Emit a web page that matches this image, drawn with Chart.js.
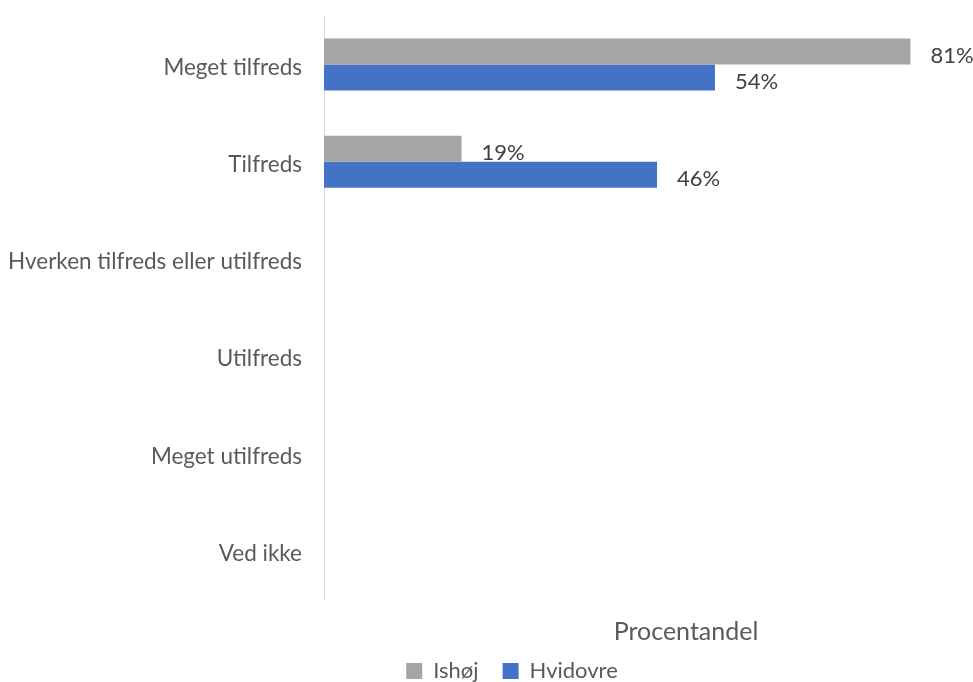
<!DOCTYPE html>
<html>
<head>
<meta charset="utf-8">
<script src="https://cdn.jsdelivr.net/npm/chart.js@4/dist/chart.umd.min.js"></script>
<style>
  html, body { margin: 0; padding: 0; background: #ffffff; overflow: hidden; }
  canvas { display: block; }
</style>
</head>
<body>
<canvas id="chart" width="1048" height="682"></canvas>
<script>
// Survey answers and the share of respondents per municipality
const categories = [
  'Meget tilfreds',
  'Tilfreds',
  'Hverken tilfreds eller utilfreds',
  'Utilfreds',
  'Meget utilfreds',
  'Ved ikke'
];
const seriesNames = ['Ishøj', 'Hvidovre'];
const ishojValues = [0.81, 0.19, 0, 0, 0, 0];
const hvidovreValues = [0.54, 0.46, 0, 0, 0, 0];
const axisTitle = 'Procentandel';

const FONT = 'Lato, "Liberation Sans", sans-serif';

// Writes the percentage just right of each non-empty bar
const valueLabels = {
  id: 'valueLabels',
  afterDatasetsDraw(chart) {
    const ctx = chart.ctx;
    ctx.save();
    ctx.font = '22px ' + FONT;
    ctx.fillStyle = '#404040';
    ctx.textAlign = 'left';
    ctx.textBaseline = 'middle';
    chart.data.datasets.forEach((ds, di) => {
      const meta = chart.getDatasetMeta(di);
      meta.data.forEach((bar, i) => {
        const v = ds.data[i];
        if (!v) return;
        ctx.fillText(Math.round(v * 100) + '%', bar.x + 20, bar.y + 4);
      });
    });
    ctx.restore();
  }
};

// Centres the legend under the left part of the figure
const legendShift = {
  id: 'legendShift',
  afterUpdate(chart) {
    const lg = chart.legend;
    if (!lg) return;
    lg.left -= 12;
    lg.right -= 12;
    if (lg.adjustHitBoxes) lg.adjustHitBoxes();
  }
};

new Chart(document.getElementById('chart'), {
  type: 'bar',
  data: {
    labels: categories,
    datasets: [
      {
        label: seriesNames[0],
        data: ishojValues,
        backgroundColor: '#a5a5a5',
        borderWidth: 0,
        categoryPercentage: 0.535,
        barPercentage: 1.0
      },
      {
        label: seriesNames[1],
        data: hvidovreValues,
        backgroundColor: '#4472c4',
        borderWidth: 0,
        categoryPercentage: 0.535,
        barPercentage: 1.0
      }
    ]
  },
  options: {
    indexAxis: 'y',
    responsive: false,
    animation: false,
    devicePixelRatio: 1,
    layout: { padding: { top: 16, right: 0, bottom: -10, left: 0 } },
    scales: {
      x: {
        min: 0,
        max: 1,
        grid: { display: false, drawTicks: false },
        border: { display: false },
        ticks: { display: false },
        title: {
          display: true,
          text: axisTitle,
          color: '#595959',
          font: { family: FONT, size: 25 },
          padding: { top: 18, bottom: -11 }
        }
      },
      y: {
        grid: { display: false, drawTicks: false },
        border: { display: true, color: '#d9d9d9', width: 1 },
        ticks: {
          color: '#595959',
          font: { family: FONT, size: 22.5 },
          padding: 22,
          labelOffset: 3
        },
        afterFit(scale) {
          scale.width = 324;
          scale.paddingTop = 0;
          scale.paddingBottom = 0;
        }
      }
    },
    plugins: {
      legend: {
        position: 'bottom',
        labels: {
          color: '#595959',
          font: { family: FONT, size: 22 },
          boxWidth: 16,
          boxHeight: 16,
          padding: 24
        }
      },
      tooltip: { enabled: false }
    }
  },
  plugins: [valueLabels, legendShift]
});
</script>
</body>
</html>
